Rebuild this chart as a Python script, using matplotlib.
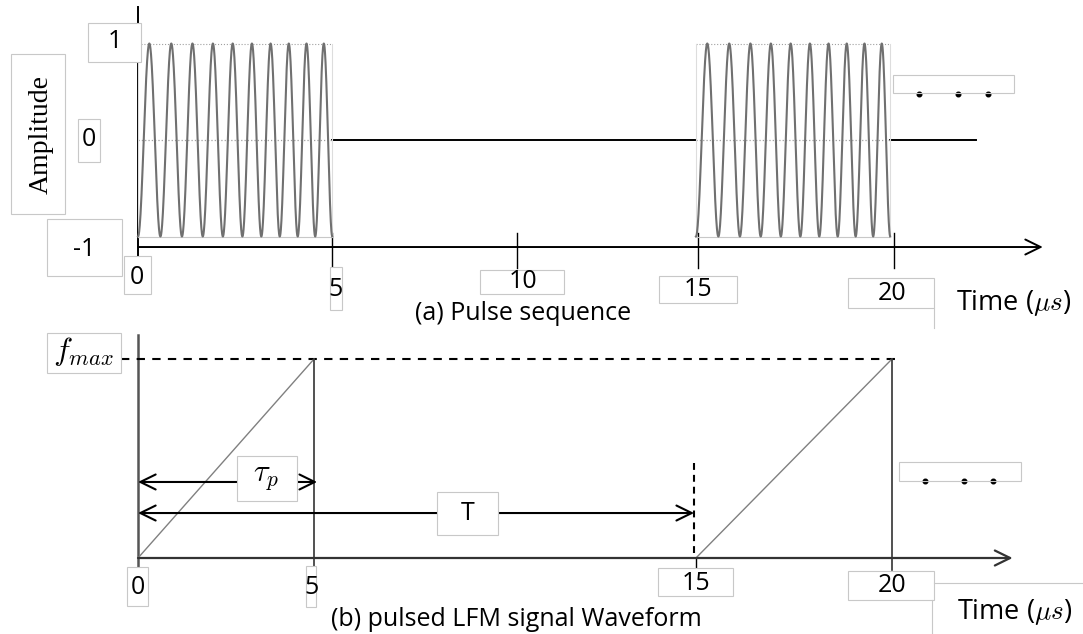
import numpy as np
import matplotlib
matplotlib.use("Agg")
import matplotlib.pyplot as plt
from matplotlib.patches import Rectangle
from matplotlib.lines import Line2D
import matplotlib.transforms as mtransforms

plt.rcParams['font.family'] = ['Open Sans', 'DejaVu Sans']
plt.rcParams['mathtext.fontset'] = 'cm'

W, H = 1083, 634

# ---- data, times in microseconds (positions as drawn in the figure) ----
# (a) pulse sequence
pulse_starts = [0.0, 14.8]
pulse_width = 5.15
f_lo, f_hi = 1.65, 2.23      # carrier inside a pulse, MHz
amp = 1.0
baseline_end = 22.23
ticks_a = [0, 5.15, 10.05, 14.85, 20.05]
ticklabels_a = ['0', '5', '10', '15', '20']
dots_a_x = [20.72, 21.75, 22.55]
dots_a_y = 0.48

# (b) pulsed LFM waveform
lfm_starts = [0.0, 14.8]
lfm_ends = [4.67, 20.0]
f_max = 1.0
tau_p = 4.75
T_period = 14.75
ticks_b = [0, 4.67, 14.8, 20.0]
ticklabels_b = ['0', '5', '15', '20']
dots_b_x = [20.88, 21.91, 22.68]
dots_b_y = 0.387

# ---- figure ----
fig = plt.figure(figsize=(W / 100, H / 100), dpi=100)
pix = mtransforms.Affine2D().scale(1, -1).translate(0, H)   # image pixel coords

x0px, sx = 138, 37.7
xlim = (-x0px / sx, (W - x0px) / sx)
ax1 = fig.add_axes([0, 0.5, 1, 0.5])
ax1.set_xlim(xlim)
ax1.set_ylim((140 - 317) / 96.5, 140 / 96.5)
ax2 = fig.add_axes([0, 0, 1, 0.5])
ax2.set_xlim(xlim)
ax2.set_ylim(-(634 - 558) / 199, (558 - 317) / 199)
for ax in (ax1, ax2):
    ax.axis('off')

arrow = '->,head_length=0.55,head_width=0.27'
arrow2 = '<->,head_length=0.55,head_width=0.27'

# ---- (a) ----
ax1.plot([0, 0], [1.378, -1.212], color='k', lw=1.4)
ax1.annotate('', xy=(24.0, -1.109), xytext=(0, -1.109),
             arrowprops=dict(arrowstyle=arrow, mutation_scale=20, lw=1.4,
                             color='k', shrinkA=0, shrinkB=0))
for t in ticks_a[1:]:
    ax1.plot([t, t], [-0.96, -1.33], color='k', lw=1)

ends = [s + pulse_width for s in pulse_starts]
for a, b in zip(ends, pulse_starts[1:] + [baseline_end]):
    ax1.plot([a, b], [0, 0], color='k', lw=1.4)

for s in pulse_starts:
    t = np.linspace(0, pulse_width, 1000)
    ph = 2 * np.pi * (f_lo * t + (f_hi - f_lo) * t ** 2 / (2 * pulse_width))
    e = s + pulse_width
    ax1.plot([s, e], [amp, amp], color='#a0a0a0', lw=0.8, ls=':')
    ax1.plot([s, e], [0, 0], color='#a0a0a0', lw=0.9, ls=':')
    ax1.plot([s, e], [-amp, -amp], color='#c8c8c8', lw=0.8)
    ax1.plot([s, s], [-amp, amp], color='#dddddd', lw=0.8)
    ax1.plot([e, e], [-amp, amp], color='#dddddd', lw=0.8)
    ax1.plot(s + t, -amp * np.cos(ph), color='#707070', lw=1.5)

ax1.plot(dots_a_x, [dots_a_y] * 3, 'o', color='k', ms=3.3)

# ---- (b) ----
ax2.plot([0, 0], [1.121, -0.06], color='#555555', lw=1.8)
ax2.annotate('', xy=(23.2, 0), xytext=(0, 0),
             arrowprops=dict(arrowstyle=arrow, mutation_scale=20, lw=1.6,
                             color='#333333', shrinkA=0, shrinkB=0))
ax2.plot([-0.45, 20.1], [f_max, f_max], color='k', lw=1.5, ls='--', dashes=(4, 3.5))
for s, e in zip(lfm_starts, lfm_ends):
    ax2.plot([s, e], [0, f_max], color='#808080', lw=1)
    ax2.plot([e, e], [f_max, -0.06], color='#333333', lw=1.2)
ax2.plot([T_period, T_period], [0.477, 0], color='k', lw=1.5, ls='--', dashes=(3.3, 2.4))
ax2.plot([ticks_b[2], ticks_b[2]], [0, -0.06], color='k', lw=1)
ax2.annotate('', xy=(tau_p, 0.382), xytext=(0, 0.382),
             arrowprops=dict(arrowstyle=arrow2, mutation_scale=20, lw=1.5,
                             color='k', shrinkA=0, shrinkB=0))
ax2.annotate('', xy=(T_period, 0.226), xytext=(0, 0.226),
             arrowprops=dict(arrowstyle=arrow2, mutation_scale=20, lw=1.5,
                             color='k', shrinkA=0, shrinkB=0))
ax2.plot(dots_b_x, [dots_b_y] * 3, 'o', color='k', ms=3.3)

# ---- text boxes (layout in image pixels) ----
def box(x0, y0, x1, y1, fill=True):
    fig.add_artist(Rectangle((x0, y0), x1 - x0, y1 - y0, transform=pix,
                             fc='white', fill=fill, ec='#c8c8c8', lw=0.8, zorder=2))

def line(x0, y0, x1, y1):
    fig.add_artist(Line2D([x0, x1], [y0, y1], transform=pix,
                          color='#c8c8c8', lw=0.8, zorder=2))

def label(x, y, s, size=18, **kw):
    fig.text(x, y, s, transform=pix, ha='center', va='center',
             fontsize=size, zorder=4, **kw)

# amplitude labels
box(88, 23, 141, 62);   label(115, 42, '1')
box(78, 119, 100, 162); label(89, 140, '0')
box(47, 219, 122, 276); label(84, 249, '-1')
box(11, 54, 65, 214)
label(41, 135, 'Amplitude', size=20, rotation=90,
      family=['Liberation Serif', 'DejaVu Serif'])

# top time ticks
top_boxes = [(124, 256, 151, 294), (330, 267, 342, 310), (480, 270, 564, 294),
             (659, 276, 737, 303), (848, 278, 934, 308)]
top_text = [(137, 277), (335, 289), (523, 282), (698, 290), (892, 293)]
for bx, (tx, ty), s in zip(top_boxes, top_text, ticklabels_a):
    box(*bx)
    label(tx, ty, s)
line(934, 308, 934, 328)
label(1014, 303, r'Time ($\mu s$)', size=19.5)
label(523, 314, '(a) Pulse sequence')
box(893, 75, 1014, 93, fill=False)

# bottom labels
box(47, 333, 121, 373); label(83, 352, r'$f_{max}$', size=23)
box(237, 456, 297, 501); label(266, 477, r'$\tau_p$', size=22)
box(437, 492, 498, 535); label(468, 513, 'T')
bot_boxes = [(127, 567, 148, 606), (306, 566, 316, 607),
             (658, 568, 733, 596), (848, 571, 934, 600)]
bot_text = [(138, 588), (312, 588), (696, 583), (892, 586)]
for bx, (tx, ty), s in zip(bot_boxes, bot_text, ticklabels_b):
    box(*bx)
    label(tx, ty, s)
line(934, 583, 1083, 583)
line(932, 600, 932, 634)
label(1015, 612, r'Time ($\mu s$)', size=19.5)
label(516, 620, '(b) pulsed LFM signal Waveform')
box(899, 462, 1021, 481, fill=False)

fig.savefig('out.png', dpi=100)
